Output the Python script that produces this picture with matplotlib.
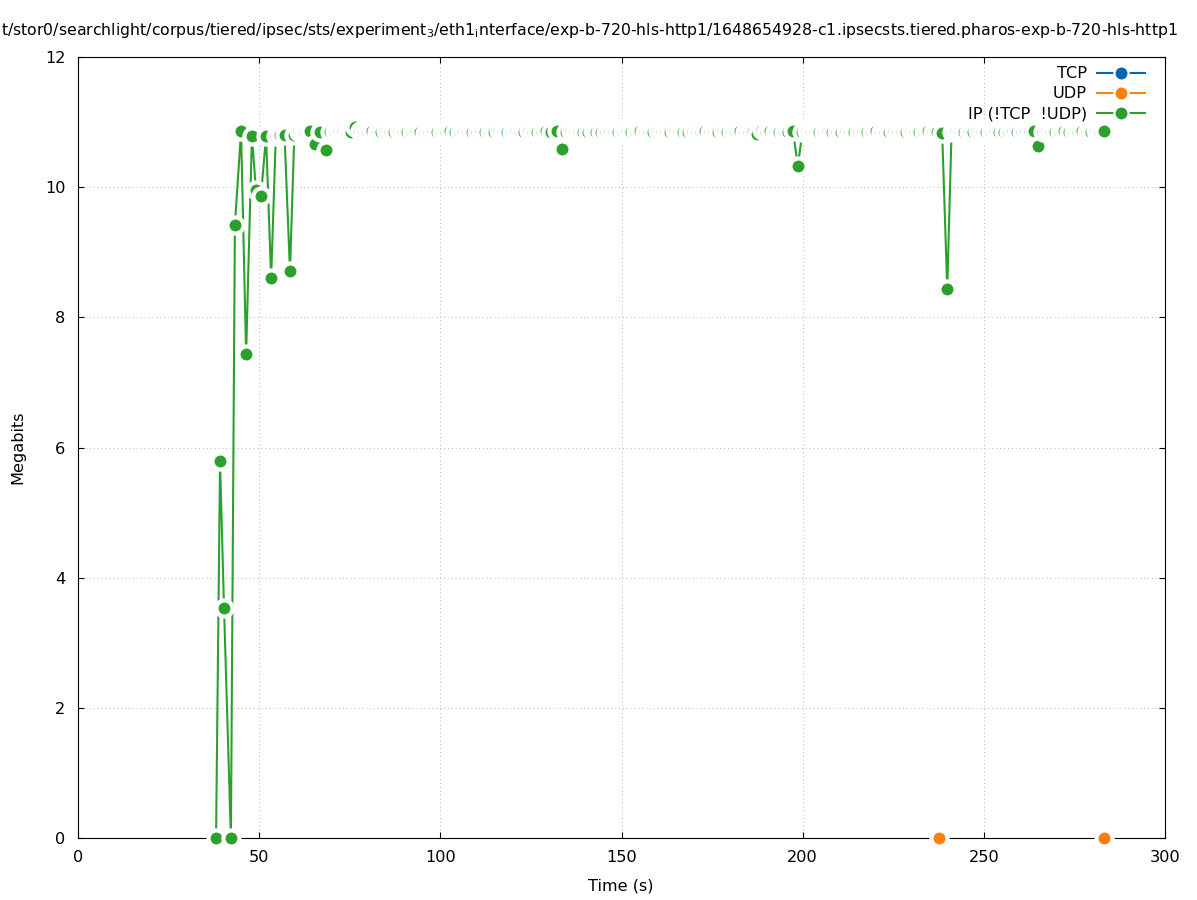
import numpy as np
import matplotlib
matplotlib.use("Agg")
import matplotlib.pyplot as plt

plt.rcParams['font.family'] = ['DejaVu Sans']
plt.rcParams['font.size'] = 11.6

title = ("t/stor0/searchlight/corpus/tiered/ipsec/sts/experiment$_3$/eth1$_\\mathrm{i}$nterface/"
         "exp-b-720-hls-http1/1648654928-c1.ipsecsts.tiered.pharos-exp-b-720-hls-http1")

# TCP series: nothing captured
tcp_t = []
tcp_v = []

# UDP series: two isolated samples (gap between them)
udp_t = [237.6, 260.0, 283.2]
udp_v = [0.0, np.nan, 0.0]

# IP (!TCP & !UDP) series, time (s) and Megabits
ip_t = [38.1, 39.2, 40.3, 42.2, 43.3, 45.0, 46.4, 48.0, 49.1, 50.5, 51.9, 53.3,
        54.6, 55.8, 57.0, 58.5, 59.7, 60.9, 62.1, 63.0, 64.0, 65.4, 66.8, 68.4,
        69.6, 70.8, 72.0, 73.2, 74.3, 75.4, 76.5,
        77.7, 78.9, 80.0, 81.2, 82.5, 83.7, 84.9, 86.0, 87.3, 88.5, 89.6, 90.9,
        92.1, 93.2, 94.4, 95.7, 96.9, 98.0, 99.2, 100.5, 101.7, 102.8, 104.0, 105.3,
        106.5, 107.6, 108.8, 110.1, 111.3, 112.4, 113.6, 114.9, 116.1, 117.2, 118.4,
        119.7, 120.9, 122.0, 123.2, 124.5, 125.7, 126.8, 128.0, 129.3, 130.6, 132.2,
        133.6,
        134.8, 136.0, 137.2, 138.3, 139.5, 140.8, 142.0, 143.1, 144.3, 145.6, 146.8,
        147.9, 149.1, 150.4, 151.6, 152.7, 153.9, 155.2, 156.4, 157.5, 158.7, 160.0,
        161.2, 162.3, 163.5, 164.8, 166.0, 167.1, 168.3, 169.6, 170.8, 171.9, 173.1,
        174.4, 175.6, 176.7, 177.9, 179.2, 180.4, 181.5, 182.7, 184.0, 185.2, 186.3,
        187.4, 188.8, 190.0, 191.1, 192.3, 193.6, 194.8, 195.9, 197.3, 198.7,
        199.9, 201.1, 202.3, 203.4, 204.6, 205.9, 207.1, 208.2, 209.4, 210.7, 211.9,
        213.0, 214.2, 215.5, 216.7, 217.8, 219.0, 220.3, 221.5, 222.6, 223.8, 225.1,
        226.3, 227.4, 228.6, 229.9, 231.1, 232.2, 233.4, 234.7, 235.9, 237.0, 238.5,
        239.9,
        241.1, 242.3, 243.5, 244.6, 245.8, 247.1, 248.3, 249.4, 250.6, 251.9, 253.1,
        254.2, 255.5, 256.9, 258.1, 259.2, 260.4, 261.7, 262.8, 263.9, 265.0,
        266.2, 267.4, 268.5, 269.7, 271.0, 272.2, 273.5, 274.8, 276.0, 277.1, 278.4,
        279.7, 280.9, 282.0, 283.2]
ip_v = [0.0, 5.79, 3.53, 0.0, 9.42, 10.86, 7.44, 10.79, 9.96, 9.86, 10.79, 8.60,
        10.79, 10.80, 10.80, 8.71, 10.80, 10.84, 10.85, 10.85, 10.86, 10.66, 10.85, 10.57,
        10.84, 10.85, 10.86, 10.85, 10.83, 10.85, 10.92,
        10.86, 10.85, 10.84, 10.86, 10.85, 10.85, 10.87, 10.84, 10.85, 10.86, 10.85, 10.84,
        10.85, 10.86, 10.85, 10.83, 10.85, 10.86, 10.85, 10.85, 10.84, 10.86, 10.85, 10.85,
        10.86, 10.84, 10.85, 10.85, 10.86, 10.85, 10.84, 10.85, 10.86, 10.85, 10.85,
        10.84, 10.86, 10.85, 10.85, 10.86, 10.84, 10.85, 10.85, 10.86, 10.85, 10.86,
        10.59,
        10.85, 10.86, 10.85, 10.84, 10.85, 10.85, 10.86, 10.85, 10.84, 10.85, 10.86,
        10.85, 10.85, 10.84, 10.86, 10.85, 10.85, 10.86, 10.84, 10.85, 10.85, 10.86,
        10.85, 10.84, 10.85, 10.86, 10.85, 10.85, 10.84, 10.86, 10.85, 10.85, 10.86,
        10.84, 10.85, 10.85, 10.86, 10.85, 10.84, 10.85, 10.86, 10.85, 10.85, 10.84,
        10.82, 10.88, 10.85, 10.86, 10.85, 10.84, 10.85, 10.85, 10.86, 10.33,
        10.85, 10.86, 10.85, 10.84, 10.85, 10.85, 10.86, 10.85, 10.84, 10.85, 10.86,
        10.85, 10.85, 10.84, 10.86, 10.85, 10.85, 10.86, 10.84, 10.85, 10.85, 10.86,
        10.85, 10.84, 10.85, 10.86, 10.85, 10.85, 10.84, 10.86, 10.85, 10.85, 10.83,
        8.44,
        10.85, 10.86, 10.85, 10.84, 10.85, 10.85, 10.86, 10.85, 10.84, 10.85, 10.86,
        10.85, 10.85, 10.84, 10.86, 10.85, 10.85, 10.86, 10.84, 10.86, 10.63,
        10.85, 10.86, 10.85, 10.84, 10.85, 10.86, 10.85, 10.85, 10.84, 10.86, 10.85,
        10.85, 10.86, 10.84, 10.86]

fig = plt.figure(figsize=(11.97, 9.0), dpi=100)
ax = fig.add_axes([78/1197, 62/900, 1087/1197, 781/900])

# filled dots with a wide white ring, like gnuplot's blanked point interval
style = dict(linewidth=1.5, marker='o', markersize=11.6, markeredgecolor='white',
             markeredgewidth=3.0, clip_on=False, zorder=3)
ax.plot(tcp_t, tcp_v, color='#0066b3', label='TCP', **style)
ax.plot(udp_t, udp_v, color='#ff7f0e', label='UDP', **style)
ax.plot(ip_t, ip_v, color='#2ca02c', label='IP (!TCP  !UDP)', **style)

ax.set_xlim(0, 300)
ax.set_ylim(0, 12)
ax.set_xticks(np.arange(0, 301, 50))
ax.set_yticks(np.arange(0, 13, 2))
ax.tick_params(direction='in', length=4.5, width=0.8, top=True, right=True,
               labelsize=11.6, pad=9)
for s in ax.spines.values():
    s.set_linewidth(0.8)
    s.set_zorder(1)
ax.grid(True, color='#b8b8b8', linestyle=(0, (1, 3)), linewidth=0.7)
ax.set_axisbelow(True)

leg = ax.legend(loc='upper right', bbox_to_anchor=((1145-78)/1087, (838-66.5)/781),
                frameon=False, markerfirst=False, borderaxespad=0, borderpad=0,
                handlelength=3.0, handletextpad=0.6, labelspacing=0.3, numpoints=1,
                fontsize=11.6)
for h in leg.legend_handles:
    h.set_markeredgewidth(1.6)
    h.set_markersize(10.2)

fig.text(0.001, 1 - 30/900, title, ha='left', va='center', fontsize=11.3)
fig.text(621/1197, 1 - 886/900, 'Time (s)', ha='center', va='center', fontsize=11.6)
fig.text(18/1197, 1 - 447/900, 'Megabits', ha='center', va='center', rotation=90, fontsize=11.6)

fig.savefig('out.png', dpi=100)
